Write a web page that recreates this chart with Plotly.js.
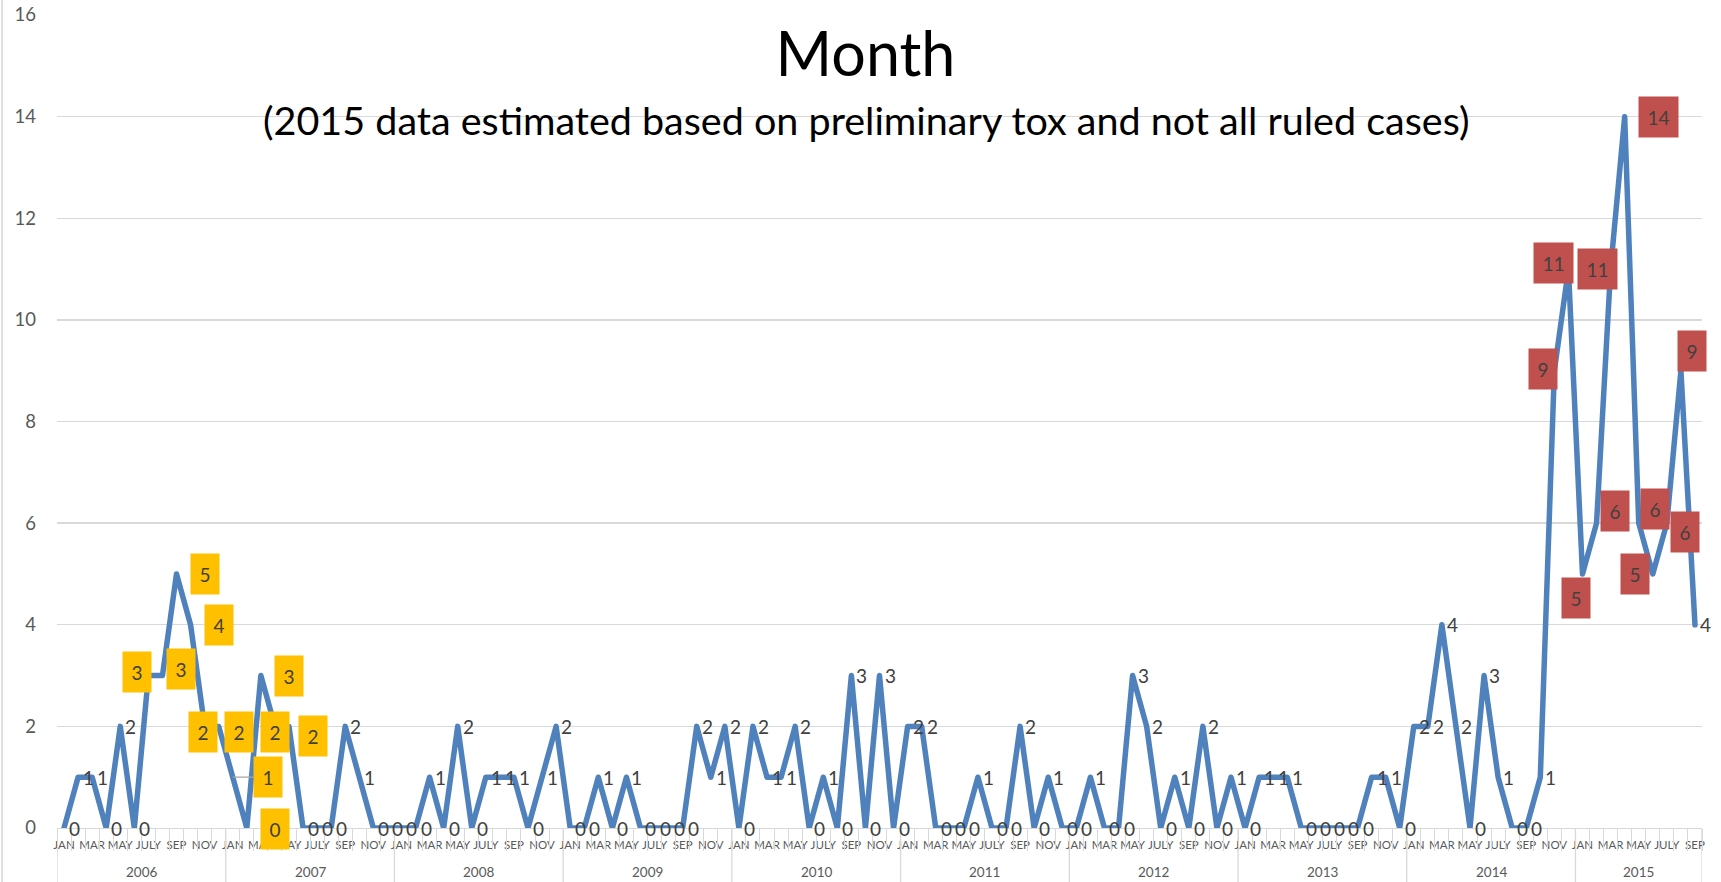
<!DOCTYPE html>
<html>
<head>
<meta charset="utf-8">
<script src="https://cdn.plot.ly/plotly-3.0.1.min.js"></script>
<style>
  html, body { margin: 0; padding: 0; background: #ffffff; }
  #chart { width: 1721px; height: 882px; }
  .scatterlayer .js-line { stroke-linejoin: round; stroke-linecap: round; }
</style>
</head>
<body>
<div id="chart"></div>
<script>
// ---- data ----
const years = [2006, 2007, 2008, 2009, 2010, 2011, 2012, 2013, 2014, 2015];
const monthNames = ['JAN', 'FEB', 'MAR', 'APR', 'MAY', 'JUNE', 'JULY', 'AUG', 'SEP', 'OCT', 'NOV', 'DEC'];
const labelledMonths = ['JAN', 'MAR', 'MAY', 'JULY', 'SEP', 'NOV'];

const deaths2006 = [0, 1, 1, 0, 2, 0, 3, 3, 5, 4, 2, 2];
const deaths2007 = [1, 0, 3, 2, 2, 0, 0, 0, 2, 1, 0, 0];
const deaths2008 = [0, 0, 1, 0, 2, 0, 1, 1, 1, 0, 1, 2];
const deaths2009 = [0, 0, 1, 0, 1, 0, 0, 0, 0, 2, 1, 2];
const deaths2010 = [0, 2, 1, 1, 2, 0, 1, 0, 3, 0, 3, 0];
const deaths2011 = [2, 2, 0, 0, 0, 1, 0, 0, 2, 0, 1, 0];
const deaths2012 = [0, 1, 0, 0, 3, 2, 0, 1, 0, 2, 0, 1];
const deaths2013 = [0, 1, 1, 1, 0, 0, 0, 0, 0, 1, 1, 0];
const deaths2014 = [2, 2, 4, 2, 0, 3, 1, 0, 0, 1, 9, 11];
const deaths2015 = [5, 6, 11, 14, 6, 5, 6, 9, 4];

// highlighted label periods [firstYear, firstMonth, lastYear, lastMonth]
const yellowPeriod = [2006, 'JULY', 2007, 'MAY'];
const redPeriod = [2014, 'NOV', 2015, 'AUG'];

const titleText = 'Month';
const subtitleText = '(2015 data estimated based on preliminary tox and not all ruled cases)';

// ---- label placement (style only: pixel nudges of the boxed labels, [right, down]) ----
const boxNudge = {
  '2006-JULY': [-11, -4], '2006-AUG': [19, -7], '2006-SEP': [28, 0], '2006-OCT': [28, 0],
  '2006-NOV': [-2, 6], '2006-DEC': [20, 6], '2007-JAN': [35, 0], '2007-FEB': [28, 1],
  '2007-MAR': [28, 0], '2007-APR': [0, 6], '2007-MAY': [24, 10],
  '2014-NOV': [-11, -2], '2014-DEC': [-15, -6], '2015-JAN': [-6, 24], '2015-FEB': [18, -12],
  '2015-MAR': [-13, 0], '2015-APR': [34, 0], '2015-MAY': [16, -14], '2015-JUNE': [-18, 0],
  '2015-JULY': [18, 9], '2015-AUG': [11, -20]
};
const leaderLabels = ['2007-JAN'];

// ---- build series ----
const byYear = [deaths2006, deaths2007, deaths2008, deaths2009, deaths2010,
                deaths2011, deaths2012, deaths2013, deaths2014, deaths2015];
const values = [], monthOf = [], yearOf = [];
byYear.forEach((arr, yi) => arr.forEach((v, mi) => {
  values.push(v); monthOf.push(monthNames[mi]); yearOf.push(years[yi]);
}));
const idx = values.map((_, i) => i);
const n = values.length;

function indexOf(y, m) { return years.indexOf(y) * 12 + monthNames.indexOf(m); }
function inPeriod(i, p) { return i >= indexOf(p[0], p[1]) && i <= indexOf(p[2], p[3]); }

const FONT = 'Lato, "Open Sans", sans-serif';
const GRID = '#D9D9D9';

// month tick labels
const tickVals = [], tickText = [];
idx.forEach(i => { if (labelledMonths.includes(monthOf[i])) { tickVals.push(i); tickText.push(monthOf[i]); } });
// month boundaries
const boundaries = [];
for (let i = 0; i <= n; i++) boundaries.push(i - 0.5);

// year groups
const shapes = [];
const annotations = [];
years.forEach(y => {
  const members = idx.filter(i => yearOf[i] === y);
  const first = members[0], last = members[members.length - 1];
  shapes.push({type: 'line', xref: 'x', yref: 'paper', x0: first - 0.5, x1: first - 0.5,
               y0: 0, y1: -0.075, line: {color: GRID, width: 1.3}, layer: 'below'});
  annotations.push({xref: 'x', yref: 'paper', x: (first + last) / 2, y: -0.054,
                    text: String(y), showarrow: false, yanchor: 'middle',
                    font: {family: FONT, size: 13.5, color: '#595959'}});
});
shapes.push({type: 'line', xref: 'x', yref: 'paper', x0: n - 0.5, x1: n - 0.5,
             y0: 0, y1: -0.075, line: {color: GRID, width: 1.3}, layer: 'below'});
// outer chart border (left)
shapes.push({type: 'line', xref: 'paper', yref: 'paper', x0: -0.0334, x1: -0.0334,
             y0: -0.08, y1: 1.05, line: {color: GRID, width: 1.6}});

// data labels
idx.forEach(i => {
  const key = yearOf[i] + '-' + monthOf[i];
  const yellow = inPeriod(i, yellowPeriod), red = inPeriod(i, redPeriod);
  const boxed = yellow || red;
  const base = {
    xref: 'x', yref: 'y', x: i, y: values[i], text: String(values[i]),
    yanchor: 'middle', font: {family: FONT, size: 19, color: '#404040'}
  };
  if (boxed) {
    const nd = boxNudge[key] || [24, 0];
    base.bgcolor = yellow ? '#FFC000' : '#C0504D';
    base.borderpad = 8.5;
    if (leaderLabels.includes(key)) {
      Object.assign(base, {showarrow: true, arrowhead: 0, arrowwidth: 1.3, arrowcolor: '#A6A6A6',
                           ax: nd[0], ay: nd[1], standoff: 0, xanchor: 'center'});
    } else {
      Object.assign(base, {showarrow: false, xanchor: 'center', xshift: nd[0], yshift: -nd[1]});
    }
  } else {
    Object.assign(base, {showarrow: false, xanchor: 'left', xshift: 4, borderpad: 0});
  }
  annotations.push(base);
});

// subtitle
annotations.push({xref: 'paper', yref: 'paper', x: 0.4915, y: 0.872, xanchor: 'center', yanchor: 'middle',
                  text: subtitleText, showarrow: false,
                  font: {family: FONT, size: 39.5, color: '#000000'}});

const traces = [
  {x: idx, y: values, type: 'scatter', mode: 'lines', xaxis: 'x', yaxis: 'y',
   line: {color: '#4F81BD', width: 5.5}, hoverinfo: 'skip', showlegend: false},
  // invisible trace carrying the month-boundary tick axis
  {x: [idx[0], idx[n - 1]], y: [0, 0], type: 'scatter', mode: 'lines', xaxis: 'x2', yaxis: 'y',
   line: {width: 0}, hoverinfo: 'skip', showlegend: false}
];

const layout = {
  width: 1721, height: 882,
  margin: {l: 57, r: 19, t: 15, b: 54},
  paper_bgcolor: '#ffffff', plot_bgcolor: '#ffffff',
  title: {text: titleText, xref: 'paper', x: 0.4915, xanchor: 'center',
          yref: 'container', y: 1 - 55 / 882, yanchor: 'middle',
          font: {family: FONT, size: 61, color: '#000000'}},
  xaxis: {range: [-0.5, n - 0.5], tickmode: 'array', tickvals: tickVals, ticktext: tickText,
          ticks: '', tickangle: 0, showgrid: false, zeroline: false, showline: false,
          tickfont: {family: FONT, size: 11.5, color: '#595959'}, ticklabelstandoff: 8,
          fixedrange: true},
  xaxis2: {overlaying: 'x', matches: 'x', side: 'bottom', anchor: 'y',
           tickmode: 'array', tickvals: boundaries, ticktext: boundaries.map(() => ''),
           showticklabels: false, ticks: 'outside', ticklen: 22, tickwidth: 1, tickcolor: GRID,
           showgrid: false, zeroline: false, showline: true, linecolor: GRID, linewidth: 1.3},
  yaxis: {range: [0, 16], tickmode: 'linear', tick0: 0, dtick: 2,
          showgrid: true, gridcolor: GRID, gridwidth: 1.3, zeroline: false, showline: false,
          ticks: '', tickfont: {family: FONT, size: 18.5, color: '#595959'}, ticklabelstandoff: 20},
  shapes: shapes,
  annotations: annotations
};

Plotly.newPlot('chart', traces, layout, {displayModeBar: false, staticPlot: true});
</script>
</body>
</html>
